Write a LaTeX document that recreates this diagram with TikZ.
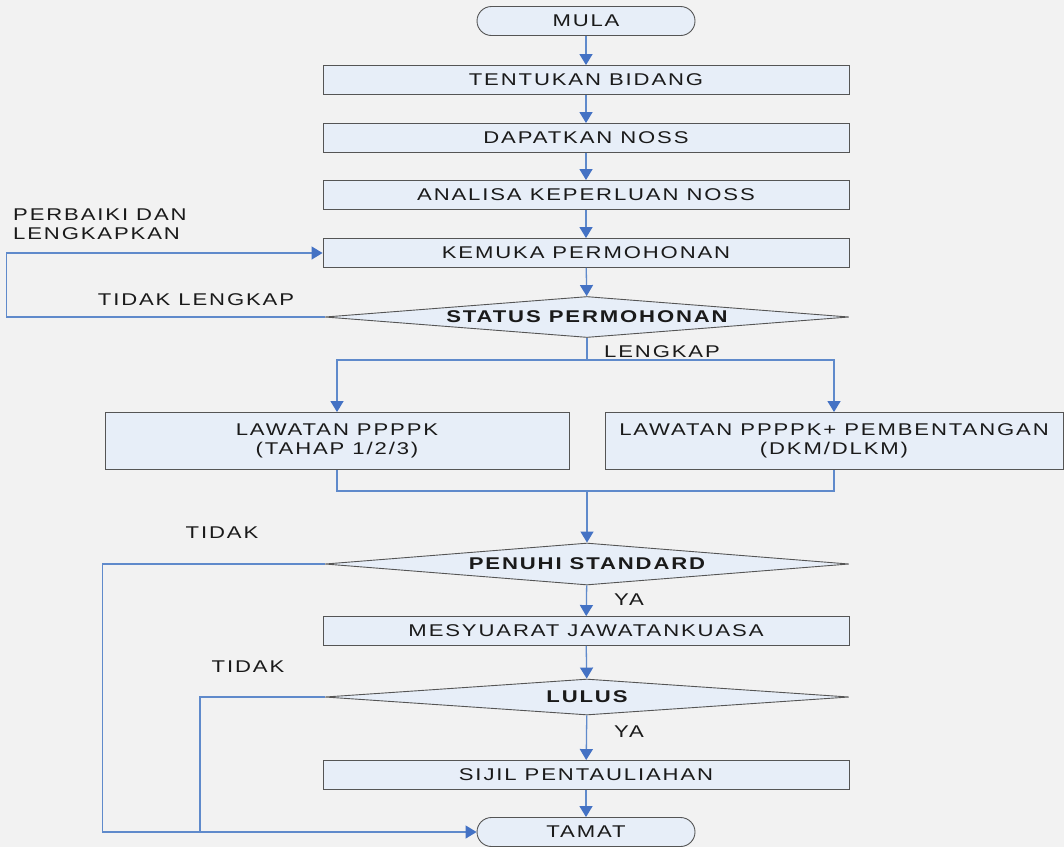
\documentclass[tikz,border=0pt]{standalone}
\usepackage{fontspec}
\setmainfont{Liberation Sans}[FakeStretch=1.3, LetterSpace=11]
\usetikzlibrary{arrows.meta, positioning, shapes.geometric}
\definecolor{cbg}{HTML}{F2F2F2}
\definecolor{cfill}{HTML}{E7EEF8}
\definecolor{cedge}{HTML}{555555}
\definecolor{cline}{HTML}{5F8ACB}
\definecolor{chead}{HTML}{4472C4}
\definecolor{ctext}{HTML}{1A1A1A}
\tikzset{
  every picture/.style={font=\fontsize{17}{19}\selectfont, text=ctext},
  stepbox/.style={draw=cedge, fill=cfill, line width=0.9pt, minimum width=526pt, minimum height=29pt, inner sep=1pt, align=center},
  term/.style={draw=cedge, fill=cfill, line width=0.9pt, rounded corners=14.5pt, minimum width=218pt, minimum height=29pt, inner sep=0pt},
  decision/.style={diamond, draw=cedge, fill=cfill, line width=0.9pt, minimum width=524pt, inner sep=0pt, font=\fontsize{17}{19}\selectfont\bfseries},
  line/.style={draw=cline, line width=1.3pt},
  flow/.style={line, -{Triangle[length=11pt, width=13pt, color=chead]}},
}
\newcommand{\dtext}[1]{\makebox[0pt]{#1}}

\begin{document}
\begin{tikzpicture}[x=1pt, y=-1pt]
  \fill[cbg] (0,0) rectangle (1064,847);
  \useasboundingbox (0,0) rectangle (1064,847);

  % application
  \node[term] (mula) at (586,21) {MULA};
  \node[stepbox] (bidang) at (586,80) {TENTUKAN BIDANG};
  \node[stepbox] (noss) at (586,138) {DAPATKAN NOSS};
  \node[stepbox] (analisa) at (586,195) {ANALISA KEPERLUAN NOSS};
  \node[stepbox] (kemuka) at (586,253) {KEMUKA PERMOHONAN};
  \node[decision, minimum height=41pt] (status) at (587,317) {\dtext{STATUS PERMOHONAN}};

  % visits
  \node[stepbox, minimum width=464pt, minimum height=57pt] (lawatan) at (337,441) {LAWATAN PPPPK\\(TAHAP 1/2/3)};
  \node[stepbox, minimum width=458pt, minimum height=57pt] (bentang) at (834,441) {LAWATAN PPPPK+ PEMBENTANGAN\\(DKM/DLKM)};

  % assessment
  \node[decision, minimum height=42pt] (standard) at (587,564) {\dtext{PENUHI STANDARD}};
  \node[stepbox] (mesyuarat) at (586,631) {MESYUARAT JAWATANKUASA};
  \node[decision, minimum height=36pt] (lulus) at (587,697) {\dtext{LULUS}};
  \node[stepbox] (sijil) at (586,775) {SIJIL PENTAULIAHAN};
  \node[term] (tamat) at (586,832) {TAMAT};

  % labels
  \node (tl) at (196,300) {TIDAK LENGKAP};
  \node[align=left, anchor=north west, inner sep=0pt] (pdl) at (13,209) {PERBAIKI DAN\\LENGKAPKAN};
  \node (lengkap) at (662,352) {LENGKAP};
  \node (tidak1) at (222,533) {TIDAK};
  \node (ya1) at (629,600) {YA};
  \node (tidak2) at (248,667) {TIDAK};
  \node (ya2) at (629,732) {YA};

  % links
  \draw[flow] (mula) -- (bidang);
  \draw[flow] (bidang) -- (noss);
  \draw[flow] (noss) -- (analisa);
  \draw[flow] (analisa) -- (kemuka);
  \draw[flow] (kemuka) -- (status);
  \draw[flow] (status.west) -- ++(-318,0) |- (kemuka.west);
  \draw[line] (status.south) -- ++(0,22) coordinate (split);
  \draw[flow] (split) -| (lawatan.north);
  \draw[flow] (split) -| (bentang.north);
  \draw[line] (lawatan.south) -- ++(0,21) -| (bentang.south);
  \coordinate (merge) at (standard.north |- 0,491);
  \draw[flow] (merge) -- (standard.north);
  \draw[flow] (standard) -- (mesyuarat);
  \draw[flow] (mesyuarat) -- (lulus);
  \draw[flow] (lulus) -- (sijil);
  \draw[flow] (sijil) -- (tamat);
  \coordinate (join) at (200,832);
  \draw[flow] (standard.west) -- ++(-222,0) |- (tamat.west);
  \draw[line] (lulus.west) -| (join);
\end{tikzpicture}
\end{document}
